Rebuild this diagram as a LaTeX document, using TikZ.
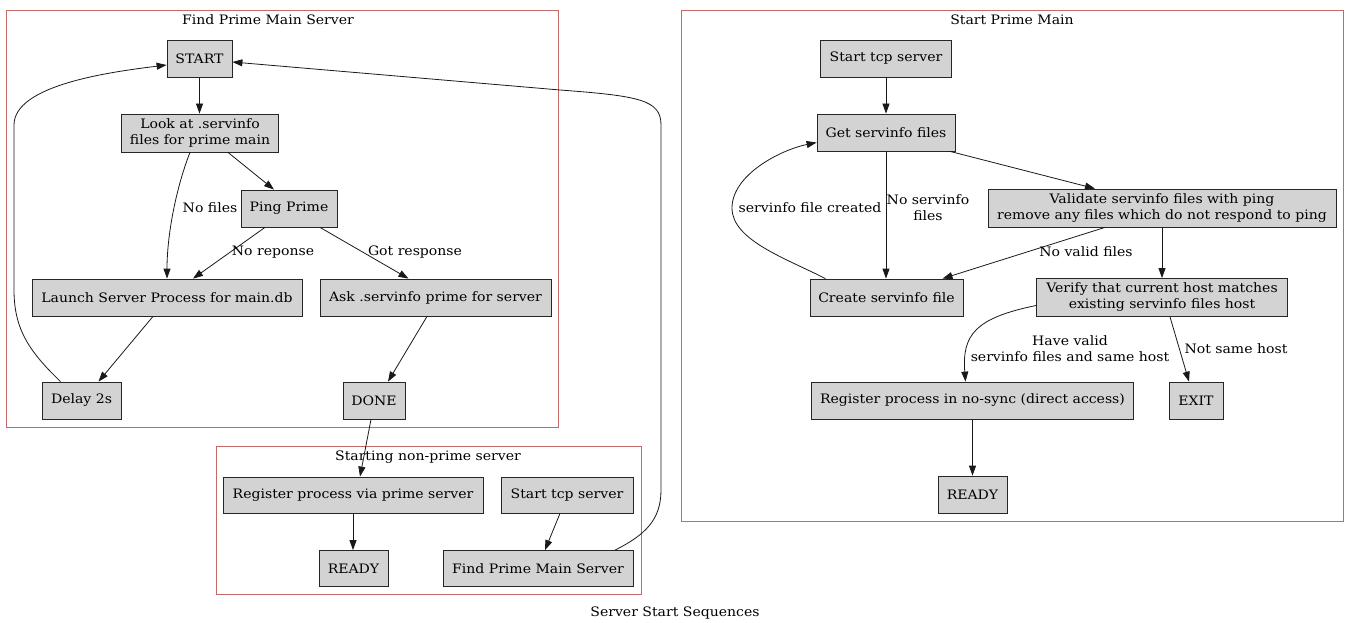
\documentclass[tikz,border=0pt]{standalone}
\usepackage{fontspec}
\setmainfont{DejaVu Serif}[FakeStretch=1.08]
\usetikzlibrary{arrows.meta,calc}
\definecolor{clus}{RGB}{196,104,104}
\definecolor{nfill}{RGB}{211,211,211}
\tikzset{
  fnt/.style={font=\fontsize{13}{16}\selectfont},
  box/.style={fnt,draw=black!85,fill=nfill,line width=0.8pt,minimum height=37pt,inner sep=0pt,align=center},
  cl/.style={draw=clus,line width=0.8pt},
  ttl/.style={fnt,inner sep=0pt},
  lbl/.style={fnt,inner sep=0pt,align=center},
  arr/.style={draw=black!90,line width=0.8pt,-{Triangle[length=10pt,width=7pt]}}
}
\begin{document}
\begin{tikzpicture}[x=1pt,y=-1pt]
\path[use as bounding box] (0,0) rectangle (1352,623);
% clusters
\draw[cl] (6,10) rectangle (558,427);
\node[ttl] (t1) at (268,20) {Find Prime Main Server};
\draw[cl] (681,10) rectangle (1343,521);
\node[ttl] (t2) at (1012,20) {Start Prime Main};
\draw[cl] (216,446) rectangle (641,594);
\node[ttl] (t3) at (428,457) {Starting non-prime server};
\node[ttl] (cap) at (675,613) {Server Start Sequences};
% cluster 1 nodes
\node[box,minimum width=65pt] (start) at (199.5,59) {START};
\node[box,minimum width=157pt,minimum height=38pt] (look) at (200,133) {Look at .servinfo\\files for prime main};
\node[box,minimum width=96pt] (ping) at (289,208.5) {Ping Prime};
\node[box,minimum width=270pt] (launch) at (167,297.5) {Launch Server Process for main.db};
\node[box,minimum width=231pt] (ask) at (435.5,297.5) {Ask .servinfo prime for server};
\node[box,minimum width=79pt] (delay) at (81.5,400.5) {Delay 2s};
\node[box,minimum width=62pt] (done) at (374,400.5) {DONE};
% cluster 2 nodes
\node[box,minimum width=131pt] (tcp) at (886,58.5) {Start tcp server};
\node[box,minimum width=138pt] (get) at (886,132.5) {Get servinfo files};
\node[box,minimum width=348pt,minimum height=38pt] (valid) at (1162,208) {Validate servinfo files with ping\\remove any files which do not respond to ping};
\node[box,minimum width=153pt] (create) at (886.5,297.5) {Create servinfo file};
\node[box,minimum width=251pt,minimum height=38pt] (verify) at (1162,297.5) {Verify that current host matches\\existing servinfo files host};
\node[box,minimum width=322pt] (reg) at (972.5,400.5) {Register process in no-sync (direct access)};
\node[box,minimum width=54pt] (exit) at (1196,400.5) {EXIT};
\node[box,minimum width=69pt] (ready) at (972.5,494.5) {READY};
% cluster 3 nodes
\node[box,minimum width=260pt,minimum height=36pt] (regvia) at (353,495) {Register process via prime server};
\node[box,minimum width=132pt,minimum height=36pt] (tcp2) at (567,495) {Start tcp server};
\node[box,minimum width=69pt,minimum height=36pt] (ready2) at (353.5,568.5) {READY};
\node[box,minimum width=190pt,minimum height=36pt] (find2) at (538,568.5) {Find Prime Main Server};
% cluster 1 edges
\draw[arr] (start.south) -- (start.south |- look.north);
\draw[arr] ($(look.south)+(28,0)$) -- ($(ping.north)+(-15,0)$);
\draw[arr] ($(look.south)+(-10,0)$) .. controls (176,188) and (167,235) .. ($(launch.north)+(0,0)$);
\node[lbl] (lnf) at (210,208) {No files};
\draw[arr] ($(ping.south)+(-24,0)$) -- ($(launch.north)+(26,0)$);
\node[lbl] (lnr) at (273,252) {No reponse};
\draw[arr] ($(ping.south)+(31,0)$) -- ($(ask.north)+(-27,0)$);
\node[lbl] (lgr) at (415,252) {Got response};
\draw[arr] ($(launch.south)+(-14,0)$) -- ($(delay.north)+(17,0)$);
\draw[arr] ($(ask.south)+(-8.5,0)$) -- ($(done.north)+(14,0)$);
\draw[arr] ($(delay.north)+(-21,0)$) .. controls (30,352) and (14,330) .. (14,290) -- (14,125) .. controls (14,85) and (110,72) .. ($(start.west)+(0,6)$);
% cross-cluster
\draw[arr] ($(done.south)+(-3,0)$) -- ($(regvia.north)+(7,0)$);
\draw[arr] ($(find2.north)+(77,0)$) .. controls (645,535) and (661,520) .. (661,490) -- (661,125) .. controls (661,100) and (640,96) .. (560,90) -- ($(start.east)+(0,3)$);
% cluster 3 edges
\draw[arr] (regvia.south) -- (regvia.south |- ready2.north);
\draw[arr] ($(tcp2.south)+(-7,0)$) -- ($(find2.north)+(7,0)$);
% cluster 2 edges
\draw[arr] (tcp.south) -- (tcp.south |- get.north);
\draw[arr] ($(get.south)+(64,0)$) -- ($(valid.north)+(-67,0)$);
\draw[arr] (get.south) -- (get.south |- create.north);
\node[lbl] (lns) at (928,208) {No servinfo\\files};
\draw[arr] ($(create.north)+(-61,0)$) .. controls (785,258) and (732,240) .. (732,208) .. controls (732,175) and (780,150) .. ($(get.west)+(0,10)$);
\node[lbl] (lsc) at (810,208) {servinfo file created};
\draw[arr] ($(valid.south)+(-57,0)$) -- ($(create.north)+(56,0)$);
\node[lbl] (lnv) at (1086,252) {No valid files};
\draw[arr] (valid.south) -- (valid.south |- verify.north);
\draw[arr] ($(verify.west)+(0,8)$) .. controls (975,318) and (962,335) .. ($(reg.north)+(-7,0)$);
\node[lbl] (lhv) at (1070,349) {Have valid\\servinfo files and same host};
\draw[arr] ($(verify.south)+(8,0)$) -- ($(exit.north)+(-7,0)$);
\node[lbl] (lns2) at (1236,349) {Not same host};
\draw[arr] (reg.south) -- (reg.south |- ready.north);
\end{tikzpicture}
\end{document}
